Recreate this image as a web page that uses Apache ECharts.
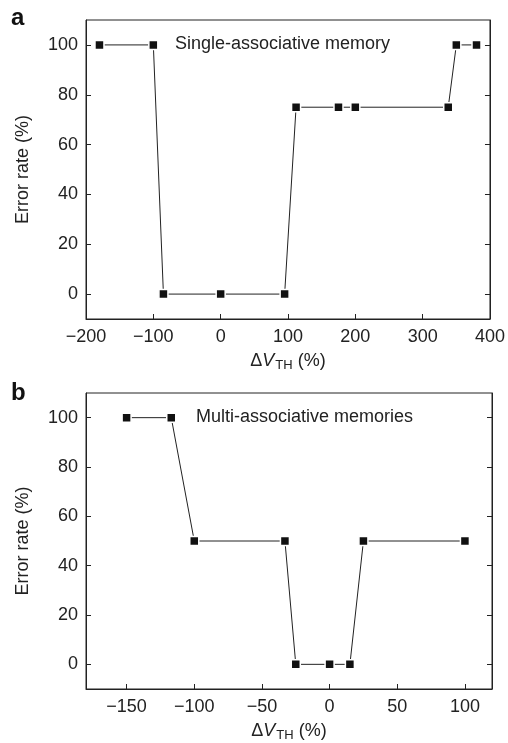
<!DOCTYPE html>
<html>
<head>
<meta charset="utf-8">
<script src="https://cdn.jsdelivr.net/npm/echarts@6/dist/echarts.min.js"></script>
<style>
html,body{margin:0;background:#fff;}
#chart{width:508px;height:743px;}
</style>
</head>
<body>
<div id="chart"></div>
<script>
// panel a - single-associative memory
var singleX = [-180, -100, -85, 0, 95, 112, 175, 200, 338, 350, 380];
var singleY = [100, 100, 0, 0, 0, 75, 75, 75, 75, 100, 100];
// panel b - multi-associative memories
var multiX = [-150, -117, -100, -33, -25, 0, 15, 25, 100];
var multiY = [100, 100, 50, 50, 0, 0, 0, 50, 50];

var yTicks = [0, 20, 40, 60, 80, 100];
var xTicksA = [-200, -100, 0, 100, 200, 300, 400];
var xTicksB = [-150, -100, -50, 0, 50, 100];

var ink = '#222';
var font = 'Liberation Sans, Arial, sans-serif';
var fs = 18;

function pairs(xs, ys){
    var out = [];
    for (var i = 0; i < xs.length; i++) out.push([xs[i], ys[i]]);
    return out;
}

function xAxisFor(idx, min, max, ticks){
    return {
        type: 'value', gridIndex: idx, min: min, max: max,
        name: '{d|Δ}{v|V}{s|TH}{p| (%)}',
        nameLocation: 'middle', nameGap: 31,
        nameTextStyle: {
            color: ink, fontFamily: font, fontSize: fs,
            rich: {
                d: {fontSize: fs, fontFamily: font, color: ink},
                v: {fontSize: fs, fontFamily: font, color: ink, fontStyle: 'italic'},
                s: {fontSize: 13, fontFamily: font, color: ink, padding: [9, 0, 0, 1]},
                p: {fontSize: fs, fontFamily: font, color: ink}
            }
        },
        axisLine: {onZero: false, lineStyle: {color: ink, width: 1}},
        axisTick: {inside: true, length: 5, customValues: ticks, lineStyle: {color: ink}},
        axisLabel: {customValues: ticks, color: ink, fontFamily: font, fontSize: fs, margin: 9,
            formatter: function(v){ return String(v).replace('-', '\u2212'); }},
        splitLine: {show: false}
    };
}

function yAxesFor(idx){
    var left = {
        type: 'value', gridIndex: idx, min: -10, max: 110,
        name: 'Error rate (%)', nameLocation: 'middle', nameGap: 54, nameRotate: 90,
        nameTextStyle: {color: ink, fontFamily: font, fontSize: fs},
        axisLine: {show: true, onZero: false, lineStyle: {color: ink, width: 1}},
        axisTick: {show: true, inside: true, length: 5, customValues: yTicks, lineStyle: {color: ink}},
        axisLabel: {customValues: yTicks, color: ink, fontFamily: font, fontSize: fs, margin: 8},
        splitLine: {show: false}
    };
    var right = {
        type: 'value', gridIndex: idx, min: -10, max: 110, position: 'right',
        axisLine: {show: true, onZero: false, lineStyle: {color: ink, width: 1}},
        axisTick: {show: true, inside: true, length: 5, customValues: yTicks, lineStyle: {color: ink}},
        axisLabel: {show: false},
        splitLine: {show: false}
    };
    return [left, right];
}

function lineSeries(idx, data){
    return {
        type: 'line', xAxisIndex: idx, yAxisIndex: idx * 2, data: data,
        symbol: 'rect', symbolSize: 9, showSymbol: true,
        lineStyle: {color: ink, width: 1},
        itemStyle: {color: '#111', borderColor: '#fff', borderWidth: 1.5},
        animation: false
    };
}

var chart = echarts.init(document.getElementById('chart'), null, {renderer: 'canvas'});
var ya = yAxesFor(0), yb = yAxesFor(1);

chart.setOption({
    backgroundColor: '#fff',
    animation: false,
    grid: [
        {left: 86, top: 20, width: 406, height: 299, show: true, borderColor: ink, borderWidth: 1, backgroundColor: 'transparent'},
        {left: 86, top: 393, width: 406, height: 300, show: true, borderColor: ink, borderWidth: 1, backgroundColor: 'transparent'}
    ],
    xAxis: [
        xAxisFor(0, -200, 400, xTicksA),
        xAxisFor(1, -180, 120, xTicksB)
    ],
    yAxis: [ya[0], ya[1], yb[0], yb[1]],
    series: [
        lineSeries(0, pairs(singleX, singleY)),
        lineSeries(1, pairs(multiX, multiY))
    ],
    graphic: [
        {type: 'text', left: 11, top: 6, style: {text: 'a', font: 'bold 24px ' + font, fill: '#111'}},
        {type: 'text', left: 11, top: 381, style: {text: 'b', font: 'bold 24px ' + font, fill: '#111'}},
        {type: 'text', left: 175, top: 35, style: {text: 'Single-associative memory', font: fs + 'px ' + font, fill: ink}},
        {type: 'text', left: 196, top: 408, style: {text: 'Multi-associative memories', font: fs + 'px ' + font, fill: ink}}
    ]
});
</script>
</body>
</html>
